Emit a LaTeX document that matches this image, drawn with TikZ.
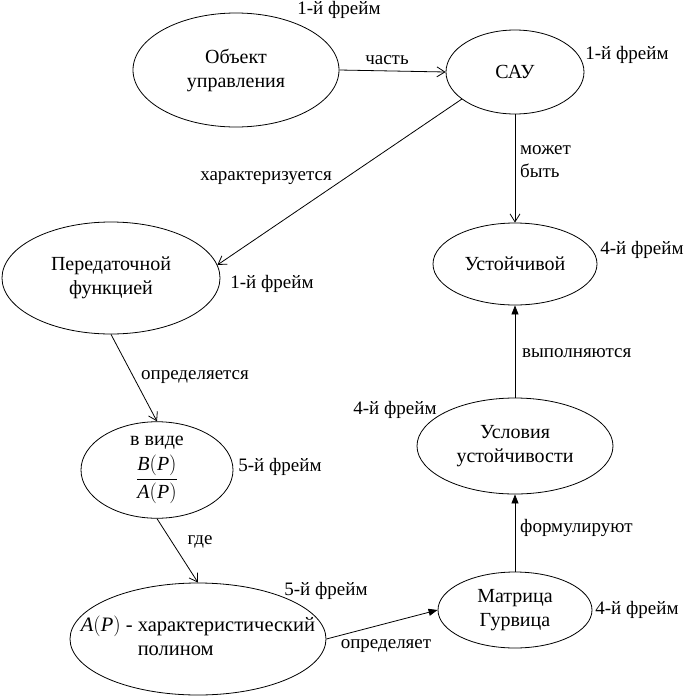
\documentclass[tikz,border=0pt]{standalone}
\usepackage{fontspec}
\setmainfont{Liberation Serif}
\usetikzlibrary{arrows.meta,shapes.geometric}
\newcommand{\ip}[1]{\mbox{\itshape #1\/\upshape}}
\begin{document}
\begin{tikzpicture}[x=1pt,y=-1pt,
  every node/.style={font=\fontsize{19}{23}\selectfont},
  ell/.style={draw,ellipse,line width=0.8pt,inner sep=0pt,align=center,font=\fontsize{20}{24}\selectfont},
  lbl/.style={inner sep=0pt,align=left},
  openarr/.style={draw,line width=0.8pt,-{Straight Barb[length=8pt,width=10pt]}},
  solidarr/.style={draw,line width=0.8pt,-{Triangle[length=9pt,width=7pt]}}
]
\useasboundingbox[fill=white] (0,0) rectangle (685,697);
% main ellipses
\node[ell,minimum width=206,minimum height=114] (obj) at (236,70) {Объект\\управления};
\node[ell,minimum width=138,minimum height=84] (sau) at (515,72) {САУ};
\node[ell,minimum width=218,minimum height=112] (pf) at (111,278) {Передаточной\\функцией};
\node[ell,minimum width=164,minimum height=82] (ust) at (515,264) {Устойчивой};
\node[ell,minimum width=196,minimum height=96] (usl) at (515,446) {Условия\\устойчивости};
\node[ell,minimum width=154,minimum height=76] (mat) at (515,610) {Матрица\\Гурвица};
\node[ell,minimum width=152,minimum height=90] (vid) at (157,470) {в виде\\[5pt]$\displaystyle\frac{\ip{B}\bigl(\ip{P}\bigr)}{\ip{A}\bigl(\ip{P}\bigr)}$};
\node[ell,minimum width=256,minimum height=112] (ap) at (198,639) {};
\node[inner sep=0pt,font=\fontsize{20.5}{24}\selectfont] (apt) at (ap.center) {\ip{A}$\bigl($\ip{P}$\bigr)$ - \begin{tabular}[t]{@{}l@{}}характеристический\\полином\end{tabular}};
% frame labels
\node[lbl] (f1) at (339,10) {1-й фрейм};
\node[lbl] (f2) at (627,55) {1-й фрейм};
\node[lbl] (f3) at (272,284) {1-й фрейм};
\node[lbl] (f4) at (642,250) {4-й фрейм};
\node[lbl] (f5) at (395,410) {4-й фрейм};
\node[lbl] (f6) at (637,610) {4-й фрейм};
\node[lbl] (f7) at (280,467) {5-й фрейм};
\node[lbl] (f8) at (326,591) {5-й фрейм};
% connectors
\draw[openarr] (obj.east) -- (sau.west);
\draw[openarr] (sau.-153) -- (pf.7);
\draw[openarr] (sau.south) -- (ust.north);
\draw[solidarr] (usl.north) -- (ust.south);
\draw[solidarr] (mat.north) -- (usl.south);
\draw[openarr] (pf.south) -- (vid.north);
\draw[openarr] (vid.south) -- (ap.north);
\draw[solidarr] (ap.east) -- (mat.west);
% connector labels
\node[lbl] (l1) at (387,60) {часть};
\node[lbl] (l2) at (266,178) {характеризуется};
\node[lbl,anchor=west] (l3) at (520,162) {может\\быть};
\node[lbl] (l4) at (195,377) {определяется};
\node[lbl] (l5) at (200,542) {где};
\node[lbl,anchor=west] (l6) at (522,353) {выполняются};
\node[lbl,anchor=west] (l7) at (520,528) {формулируют};
\node[lbl] (l8) at (386,646) {определяет};
\end{tikzpicture}
\end{document}
